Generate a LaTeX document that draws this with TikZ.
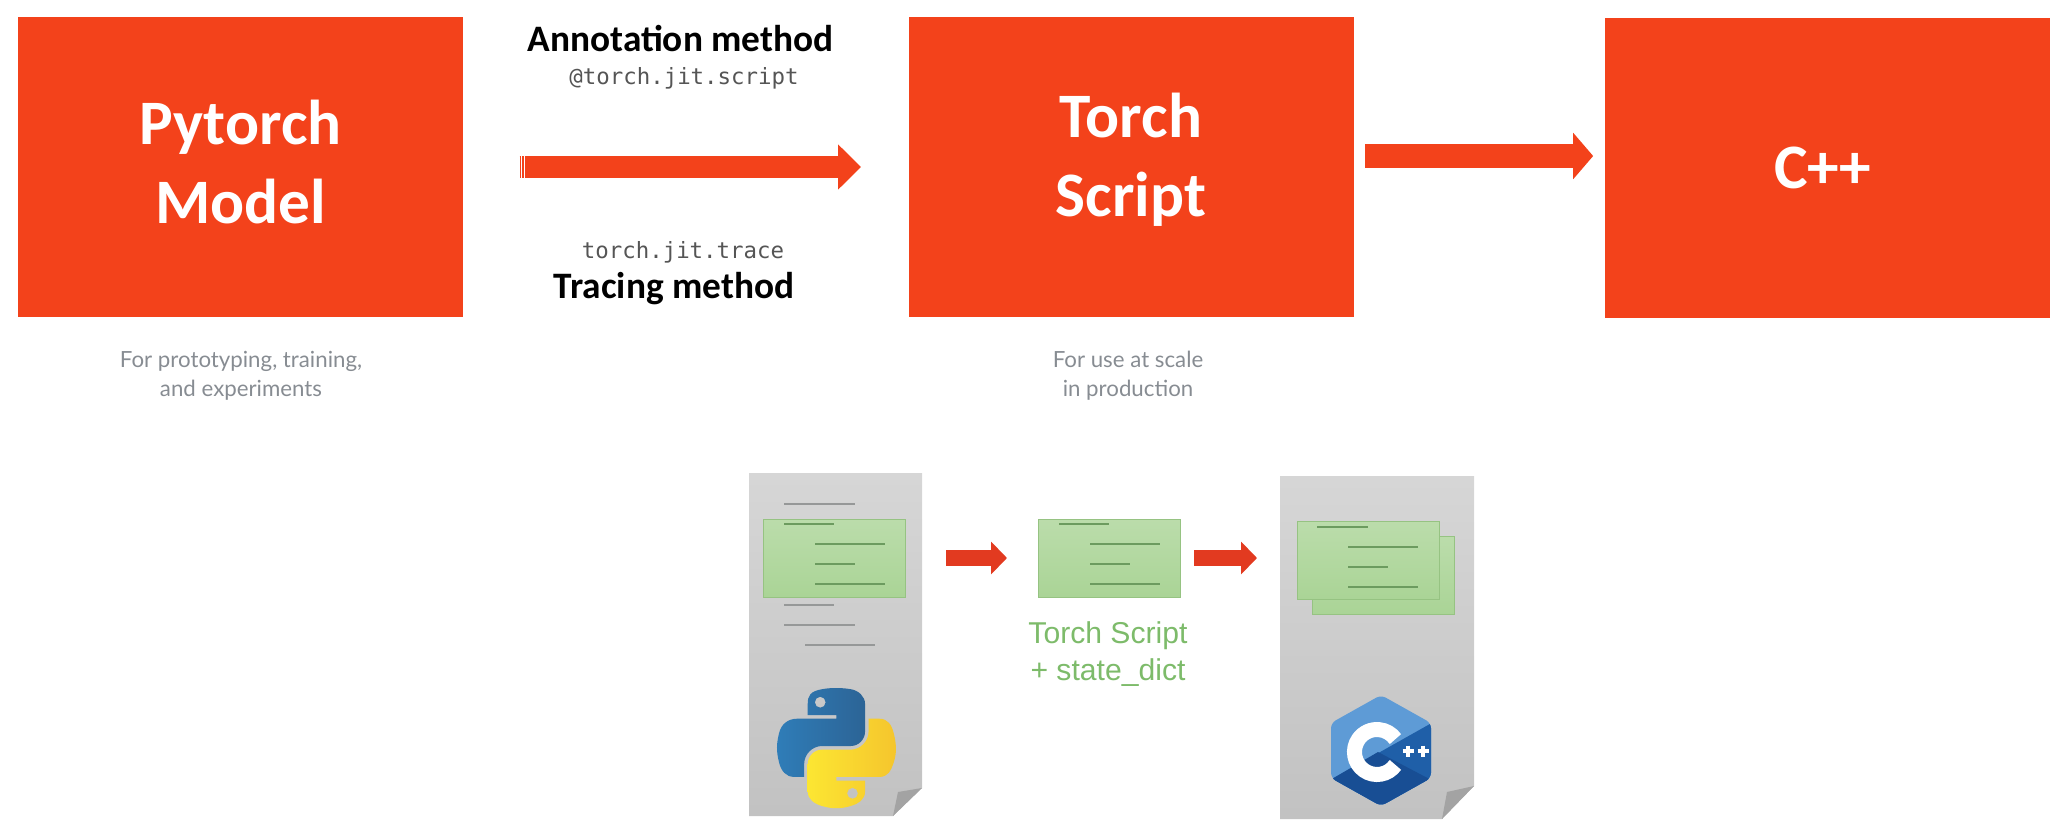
\documentclass[tikz,border=0pt]{standalone}
\usepackage{fontspec}
\usetikzlibrary{arrows.meta}
\newfontfamily\boxfont{Carlito}
\newfontfamily\codefont{DejaVu Sans Mono}
\newfontfamily\notefont{Lato}
\newfontfamily\greenfont{Liberation Sans}
\definecolor{boxred}{RGB}{243,66,27}
\definecolor{docred}{RGB}{226,58,32}
\definecolor{snipgreen}{RGB}{170,212,150}
\definecolor{snipedge}{RGB}{150,195,130}
\definecolor{snipline}{RGB}{108,155,95}
\definecolor{docline}{RGB}{150,152,152}
\definecolor{notegray}{RGB}{135,140,146}
\definecolor{codegray}{RGB}{85,85,85}
\definecolor{textgreen}{RGB}{125,187,106}
\definecolor{pyblueA}{RGB}{47,125,184}
\definecolor{pyblueB}{RGB}{44,100,150}
\definecolor{pyyellowA}{RGB}{252,230,50}
\definecolor{pyyellowB}{RGB}{245,197,45}
\definecolor{cpplight}{RGB}{94,155,214}
\definecolor{cppdark}{RGB}{31,95,168}
\definecolor{cppdeep}{RGB}{24,78,148}
\tikzset{every picture/.style={line width=0.75pt}}
\tikzset{
  redbox/.style={fill=boxred,text=white,inner sep=0pt,minimum width=333.75pt,minimum height=225pt,align=center,font=\boxfont\bfseries\fontsize{47.5}{59.5}\selectfont},
  snippet/.style={draw=snipedge,inner sep=0pt,top color=snipgreen!80!white,bottom color=snipgreen,minimum width=106.5pt,minimum height=58.5pt},
  bigarrow/.style={draw=boxred,line width=16.5pt,-{Triangle[length=17.25pt,width=33pt]}},
  smallarrow/.style={draw=docred,line width=12.5pt,-{Triangle[length=12pt,width=24pt]}},
  method/.style={inner sep=0pt,anchor=base,font=\boxfont\bfseries\fontsize{28}{30}\selectfont},
  codetext/.style={inner sep=0pt,anchor=base,text=codegray,font=\codefont\fontsize{16.8}{20}\selectfont},
  notetext/.style={inner sep=0pt,align=center,text=notegray,font=\notefont\fontsize{16.7}{21.75}\selectfont},
  docpage/.style={top color=black!16,bottom color=black!24},
  docfold/.style={fill=black!36},
  docmark/.style={draw=docline,line width=1.5pt},
  snipmark/.style={draw=snipline,line width=1.5pt},
}

\begin{document}
\begin{tikzpicture}[x=0.75pt,y=0.75pt,yscale=-1,xscale=1]
\useasboundingbox (0,0) rectangle (2060,836);

% Red boxes
\node [redbox,text depth=7.5pt] (pytorch) at (240.5,167) {Pytorch\\Model};
\node [redbox,text depth=18pt] (torchscript) at (1131,167) {Torch\\Script};
\node [redbox] (cpp) at (1827.5,168) {C++\hspace{7pt}};

% Arrows of the top row
\draw [bigarrow,shorten <=42pt,shorten >=35.25pt] (pytorch) -- (torchscript);
\draw [white,line width=0.6pt] (521,156) -- (521,178) (524,156) -- (524,178);
\draw [bigarrow,line width=18pt,-{Triangle[length=15pt,width=34pt]},shorten <=8.25pt,shorten >=8.5pt] ([yshift=-8.25pt]torchscript.east) -- ([yshift=-9pt]cpp.west);

% Text Node
\node [method] (annotation) at (680.5,51) {Annotation method};
\node [codetext] (scriptcode) at (684,84) {@torch.jit.script};
\node [codetext] (tracecode) at (683,258) {torch.jit.trace};
\node [method] (tracing) at (674,298) {Tracing method};
\node [notetext] (pytorchnote) at (241,376) {For prototyping, training,\\and experiments};
\node [notetext] (torchnote) at (1128,376) {For use at scale\\in production};

% Python page
\shade [docpage] (749,473) -- (922,473) -- (922,788) -- (893,816) -- (749,816) -- cycle;
\fill [docfold] (893,816) -- (898,792) -- (922,788) -- cycle;
\foreach \lx/\ly/\lw in {784/504/71,784/605/50,784/625/71,805/645/70}
  \draw [docmark] (\lx,\ly) -- ++(\lw,0);
\coordinate (pythonedge) at (922,558);

% Green blocks
\node [snippet] (pythonsnip) at (834.5,558) {};
\node [snippet] (middlesnip) at (1109.5,558) {};
\foreach \ox in {763,1038}
  \foreach \lx/\ly/\lw in {21/5/50,52/25/70,52/45/40,52/65/70}
    \draw [snipmark] (\ox+\lx,519+\ly) -- ++(\lw,0);

% C++ page
\shade [docpage] (1280,476) -- (1474,476) -- (1474,786) -- (1442,819) -- (1280,819) -- cycle;
\fill [docfold] (1442,819) -- (1447,792) -- (1474,786) -- cycle;
\coordinate (cppedge) at (1280,558);
\node [snippet] (backsnip) at (1383,575) {};
\node [snippet] (frontsnip) at (1368,560) {};
\foreach \lx/\ly/\lw in {20/6/51,51/26/70,51/46/40,51/66/70}
  \draw [snipmark] (1297+\lx,521+\ly) -- ++(\lw,0);

% Lower arrows
\draw [smallarrow,shorten <=18pt,shorten >=23.25pt] (pythonedge) -- (middlesnip);
\draw [smallarrow,shorten <=9.75pt,shorten >=17.25pt] (middlesnip) -- (cppedge);

% Text Node
\node [inner sep=0pt,align=center,text=textgreen,font=\greenfont\fontsize{22.6}{27.5}\selectfont] (scriptlabel) at (1108,654) {Torch Script\\+ state\_dict};

% Python logo
\begin{scope}[shift={(777,688)},xscale=1.07,yscale=1.07]
\shade [even odd rule,left color=pyblueA,right color=pyblueB]
  (54.9,0) .. controls (50.3,0) and (46,0.4) .. (42.1,1.1)
  .. controls (30.8,3.1) and (28.7,7.3) .. (28.7,15)
  -- (28.7,25.3) -- (55.5,25.3) -- (55.5,28.7) -- (18.6,28.7)
  .. controls (10.8,28.7) and (4,33.3) .. (1.9,42.3)
  .. controls (-0.6,52.5) and (-0.7,58.8) .. (1.9,69.5)
  .. controls (3.8,77.4) and (8.3,83.1) .. (16.1,83.1)
  -- (25.4,83.1) -- (25.4,70.8)
  .. controls (25.4,62) and (33,54.2) .. (42.1,54.2)
  -- (68.9,54.2)
  .. controls (76.3,54.2) and (82.3,48.1) .. (82.3,40.6)
  -- (82.3,15)
  .. controls (82.3,7.8) and (76.2,2.3) .. (68.9,1.1)
  .. controls (64.3,0.3) and (59.5,0) .. (54.9,0) -- cycle
  (45.45,13.3) .. controls (45.45,16.2) and (43.2,18.4) .. (40.4,18.4)
  .. controls (37.6,18.4) and (35.4,16.2) .. (35.4,13.3)
  .. controls (35.4,10.5) and (37.6,8.2) .. (40.4,8.2)
  .. controls (43.2,8.2) and (45.45,10.5) .. (45.45,13.3) -- cycle;
\shade [even odd rule,left color=pyyellowA,right color=pyyellowB]
  (85.6,28.7) -- (85.6,40.6)
  .. controls (85.6,49.8) and (77.8,57.6) .. (68.9,57.6)
  -- (42.1,57.6)
  .. controls (34.8,57.6) and (28.7,63.8) .. (28.7,71.2)
  -- (28.7,96.7)
  .. controls (28.7,104) and (35,108.3) .. (42.1,110.3)
  .. controls (50.6,112.8) and (58.7,113.3) .. (68.9,110.3)
  .. controls (75.6,108.4) and (82.3,104.5) .. (82.3,96.7)
  -- (82.3,86.5) -- (55.5,86.5) -- (55.5,83.1) -- (95.7,83.1)
  .. controls (103.5,83.1) and (106.4,77.7) .. (109.1,69.5)
  .. controls (111.9,61.1) and (111.8,53) .. (109.1,42.3)
  .. controls (107.2,34.5) and (103.5,28.7) .. (95.7,28.7) -- cycle
  (75.6,98.4) .. controls (75.6,101.2) and (73.4,103.5) .. (70.6,103.5)
  .. controls (67.8,103.5) and (65.5,101.2) .. (65.5,98.4)
  .. controls (65.5,95.6) and (67.8,93.3) .. (70.6,93.3)
  .. controls (73.4,93.3) and (75.6,95.6) .. (75.6,98.4) -- cycle;
\end{scope}

% C++ logo
\begin{scope}
\clip [rounded corners=4pt] (1381,695) -- (1431,723) -- (1431,778) -- (1381,806) -- (1331,778) -- (1331,723) -- cycle;
\fill [cpplight] (1325,690) rectangle (1437,812);
\fill [cppdark] (1325,783) -- (1437,720) -- (1437,812) -- (1325,812) -- cycle;
\fill [cppdeep] (1325,783) -- (1378,752) -- (1437,783) -- (1437,812) -- (1325,812) -- cycle;
\end{scope}
\draw [white,line width=11.25pt] (1395.4,764.9) arc [start angle=35,end angle=325,radius=22.5];
\draw [white,line width=3pt] (1402.5,751) -- (1413.5,751) (1408,745.5) -- (1408,756.5) (1417.5,751) -- (1428.5,751) (1423,745.5) -- (1423,756.5);

\end{tikzpicture}
\end{document}
